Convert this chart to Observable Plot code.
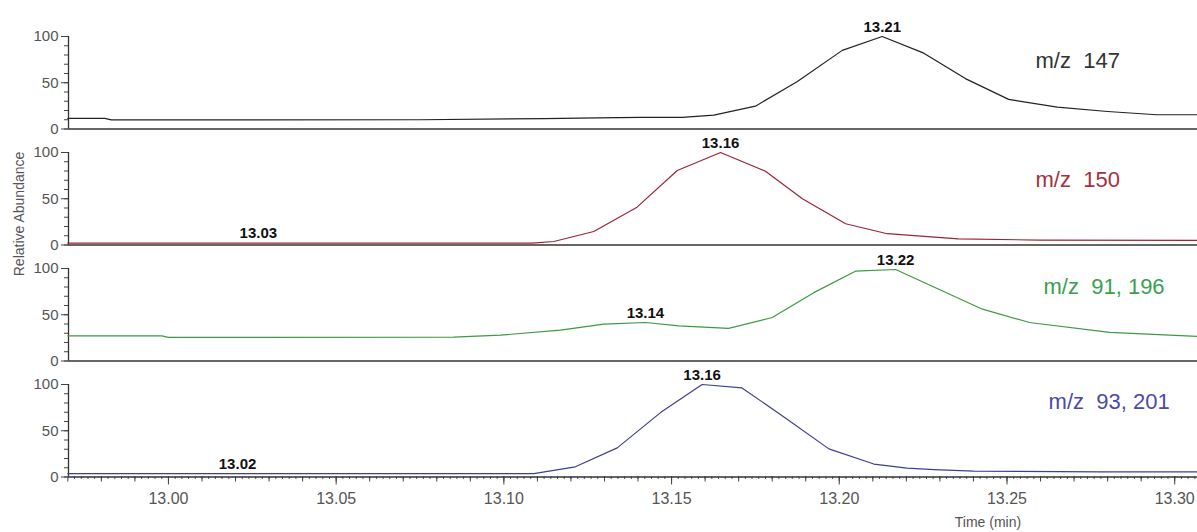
<!DOCTYPE html>
<html>
<head>
<meta charset="utf-8">
<script src="https://cdn.jsdelivr.net/npm/d3@7"></script>
<script src="https://cdn.jsdelivr.net/npm/@observablehq/plot@0.6"></script>
<style>
  html, body { margin: 0; padding: 0; background: #fff; }
  #chart svg text { white-space: pre; }
</style>
</head>
<body>
<div id="chart"></div>
<script>
// ---- data ----
const seriesKeys = ["m/z 147", "m/z 150", "m/z 91, 196", "m/z 93, 201"];
const seriesLabels = ["m/z  147", "m/z  150", "m/z  91, 196", "m/z  93, 201"];
const seriesColors = ["#222222", "#9b2435", "#3e9a42", "#3e3e92"];
const labelColors = ["#333333", "#a3303f", "#3aa050", "#4a4aab"];
const labelY = [74, 70, 80, 81];
const labelT = [13.2585, 13.2585, 13.2609, 13.2624];

const t147 = [12.970, 12.981, 12.983, 13.075, 13.112, 13.128, 13.1407, 13.1532, 13.1626, 13.175, 13.1874, 13.2009, 13.2128, 13.2252, 13.2376, 13.2505, 13.265, 13.280, 13.2946, 13.307];
const v147 = [11.5, 11.5, 9.8, 10.0, 11.3, 12.0, 12.6, 12.6, 15.0, 24.7, 51.0, 85.0, 100, 82.0, 54.5, 32.0, 23.7, 18.9, 15.4, 15.4];

const t150 = [12.970, 13.1084, 13.1149, 13.1268, 13.1397, 13.1517, 13.1646, 13.1780, 13.189, 13.2019, 13.2143, 13.2355, 13.2594, 13.307];
const v150 = [2.0, 2.0, 3.8, 14.6, 40.9, 80.5, 100, 79.8, 50.0, 23.0, 12.2, 6.7, 5.3, 5.0];

const t91 = [12.970, 12.998, 13.000, 13.085, 13.099, 13.1169, 13.1298, 13.1422, 13.1521, 13.167, 13.180, 13.1924, 13.2048, 13.2168, 13.2427, 13.2567, 13.2806, 13.307];
const v91 = [27.2, 27.2, 25.5, 25.8, 28.0, 33.3, 39.8, 41.6, 38.0, 35.2, 47.0, 73.9, 97.1, 98.9, 56.0, 41.6, 30.9, 26.6];

const t93 = [12.970, 13.1089, 13.1213, 13.1338, 13.1467, 13.1591, 13.171, 13.1834, 13.1969, 13.2103, 13.2202, 13.2282, 13.2401, 13.2779, 13.307];
const v93 = [3.6, 3.6, 11.0, 31.5, 69.6, 100, 96.3, 65.2, 30.4, 14.0, 9.6, 8.0, 6.3, 5.5, 5.5];

const peakSeries = ["m/z 147", "m/z 150", "m/z 150", "m/z 91, 196", "m/z 91, 196", "m/z 93, 201", "m/z 93, 201"];
const peakT = [13.2128, 13.1646, 13.0268, 13.2168, 13.1422, 13.1591, 13.0206];
const peakV = [100, 100, 2.0, 98.9, 41.6, 100, 3.6];
const peakText = ["13.21", "13.16", "13.03", "13.22", "13.14", "13.16", "13.02"];

const xMajorTicks = [13.00, 13.05, 13.10, 13.15, 13.20, 13.25, 13.30];
const yMajorTicks = [0, 50, 100];
const xDomain = [12.9702, 13.3068];

// ---- build tables ----
const allT = [t147, t150, t91, t93];
const allV = [v147, v150, v91, v93];
const rows = [];
seriesKeys.forEach((k, i) => allT[i].forEach((t, j) => rows.push({series: k, t, v: allV[i][j]})));
const peaks = peakT.map((t, i) => ({series: peakSeries[i], t, v: peakV[i], text: peakText[i]}));
const labels = seriesKeys.map((k, i) => ({series: k, t: labelT[i], v: labelY[i], text: seriesLabels[i], color: labelColors[i]}));

const xMid = d3.range(1297, 1331).map(i => i / 100);        // 0.01 steps
const xMinor = d3.range(6486, 6654).map(i => i / 500);     // 0.002 steps
const yMinor = d3.range(0, 101, 10);

const font = "'Liberation Sans', Arial, sans-serif";

const chart = Plot.plot({
  width: 1197,
  height: 532,
  marginLeft: 68,
  marginRight: 0,
  marginTop: 36,
  marginBottom: 55.5,
  style: {fontFamily: font, background: "#fff"},
  x: {domain: xDomain, axis: null},
  y: {domain: [0, 100], axis: null},
  fy: {domain: seriesKeys, axis: null, paddingInner: 0.2026, paddingOuter: 0, round: false},
  color: {domain: seriesKeys, range: seriesColors},
  marks: [
    Plot.axisY(yMinor, {tickSize: 4, text: null, label: null, stroke: "#444"}),
    Plot.axisY(yMajorTicks, {tickSize: 7, tickPadding: 3, fontSize: 15, label: null, stroke: "#444", color: "#555"}),
    Plot.axisX(xMinor, {tickSize: 2.5, text: null, label: null, stroke: "#555"}),
    Plot.axisX(xMid, {tickSize: 5, text: null, label: null, stroke: "#444"}),
    Plot.axisX(xMajorTicks, {tickSize: 8, tickPadding: 8, fontSize: 16, label: null, stroke: "#444", color: "#555", tickFormat: d => d.toFixed(2)}),
    Plot.ruleX([xDomain[0]], {y1: 0, y2: 100, stroke: "#333", strokeWidth: 1.3}),
    Plot.ruleY([0], {stroke: "#333", strokeWidth: 1.6}),
    Plot.line(rows, {x: "t", y: "v", fy: "series", stroke: "series", strokeWidth: 1.2}),
    Plot.text(peaks, {x: "t", y: "v", fy: "series", text: "text", lineAnchor: "bottom", dy: -5, fontSize: 15, fontWeight: "bold", fill: "#111"}),
    Plot.text(labels, {x: "t", y: "v", fy: "series", text: "text", textAnchor: "start", fontSize: 22, fill: "color"})
  ]
});

const svg = d3.select(chart);
svg.append("text")
  .attr("transform", "translate(24,214) rotate(-90)")
  .attr("text-anchor", "middle")
  .attr("fill", "#555")
  .style("font", "14px " + font)
  .text("Relative Abundance");
svg.append("text")
  .attr("x", 988)
  .attr("y", 527)
  .attr("text-anchor", "middle")
  .attr("fill", "#555")
  .style("font", "14px " + font)
  .text("Time (min)");

document.getElementById("chart").appendChild(chart);
</script>
</body>
</html>
